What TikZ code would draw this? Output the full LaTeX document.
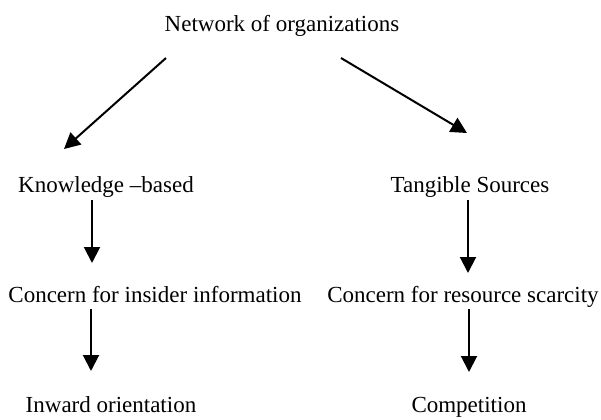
\documentclass[tikz,border=0pt]{standalone}
\usepackage{fontspec}
\setmainfont{Liberation Serif}
\usetikzlibrary{arrows.meta}
\tikzset{
    lbl/.style={inner sep=0pt, anchor=base, font=\fontsize{11.5}{13}\selectfont},
    arr/.style={-{Triangle[length=8pt, width=8pt]}, line width=1pt},
}

\begin{document}
\begin{tikzpicture}[x=0.5pt, y=-0.5pt]
    \useasboundingbox (0,0) rectangle (601,419);

    % labels, placed on their base lines
    \node[lbl] (net) at (282,31) {Network of organizations};
    \node[lbl] (know) at (106,192) {Knowledge --based};
    \node[lbl] (tang) at (470,192) {Tangible Sources};
    \node[lbl] (insider) at (155,302) {Concern for insider information};
    \node[lbl] (scarce) at (463,302) {Concern for resource scarcity};
    \node[lbl] (inward) at (111,412) {Inward orientation};
    \node[lbl] (comp) at (469,412) {Competition};

    % arrow ends
    \coordinate (net-l) at (166,58);
    \coordinate (net-r) at (341,58);
    \coordinate (know-in) at (64,149);
    \coordinate (tang-in) at (467,133);
    \coordinate (know-out) at (92,200);
    \coordinate (tang-out) at (468,200);
    \coordinate (insider-in) at (92,263);
    \coordinate (scarce-in) at (468,273);
    \coordinate (insider-out) at (91,309);
    \coordinate (scarce-out) at (469,309);
    \coordinate (inward-in) at (91,371);
    \coordinate (comp-in) at (469,372);

    \draw[arr] (net-l) -- (know-in);
    \draw[arr] (net-r) -- (tang-in);
    \draw[arr] (know-out) -- (insider-in);
    \draw[arr] (tang-out) -- (scarce-in);
    \draw[arr] (insider-out) -- (inward-in);
    \draw[arr] (scarce-out) -- (comp-in);
\end{tikzpicture}
\end{document}
